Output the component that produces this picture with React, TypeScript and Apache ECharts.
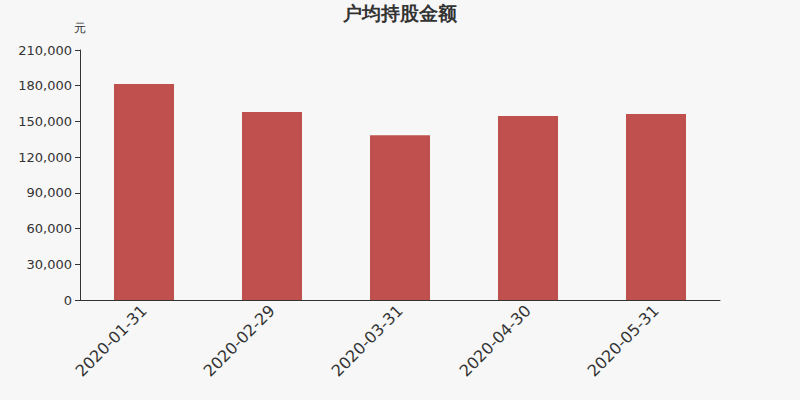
import React, { useEffect, useRef } from 'react';
import * as echarts from 'echarts';

const categories = ['2020-01-31', '2020-02-29', '2020-03-31', '2020-04-30', '2020-05-31'];
const amounts = [181400, 158000, 138300, 154600, 156200];

const App: React.FC = () => {
  const chartRef = useRef<HTMLDivElement | null>(null);

  useEffect(() => {
    document.body.style.margin = '0';
    if (!chartRef.current) return;
    const chart = echarts.init(chartRef.current, undefined, { renderer: 'svg' });

    chart.setOption({
      animation: false,
      backgroundColor: '#f7f7f7',
      textStyle: { fontFamily: 'DejaVu Sans' },
      title: {
        text: '户均持股金额',
        left: 'center',
        top: -2,
        textStyle: { fontSize: 19, fontWeight: 'bold', color: '#333' },
      },
      grid: { left: 80, right: 80, top: 50, bottom: 100 },
      xAxis: {
        type: 'category',
        data: categories,
        axisLine: { lineStyle: { color: '#333' } },
        axisTick: { lineStyle: { color: '#333' } },
        axisLabel: { rotate: 45, fontSize: 16, color: '#333', margin: 8 },
      },
      yAxis: {
        type: 'value',
        name: '元',
        nameGap: 16,
        nameTextStyle: { color: '#333', fontSize: 12, align: 'center' },
        min: 0,
        max: 210000,
        interval: 30000,
        axisLine: { show: true, lineStyle: { color: '#333' } },
        axisTick: { show: true, lineStyle: { color: '#333' } },
        axisLabel: {
          color: '#333',
          fontSize: 13,
          formatter: (v: number) => v.toLocaleString('en-US'),
        },
        splitLine: { show: false },
      },
      series: [
        {
          type: 'bar',
          data: amounts,
          barWidth: 60,
          itemStyle: { color: '#c0504d' },
        },
      ],
    });

    return () => {
      chart.dispose();
    };
  }, []);

  return <div ref={chartRef} style={{ width: '800px', height: '400px' }} />;
};

export default App;
